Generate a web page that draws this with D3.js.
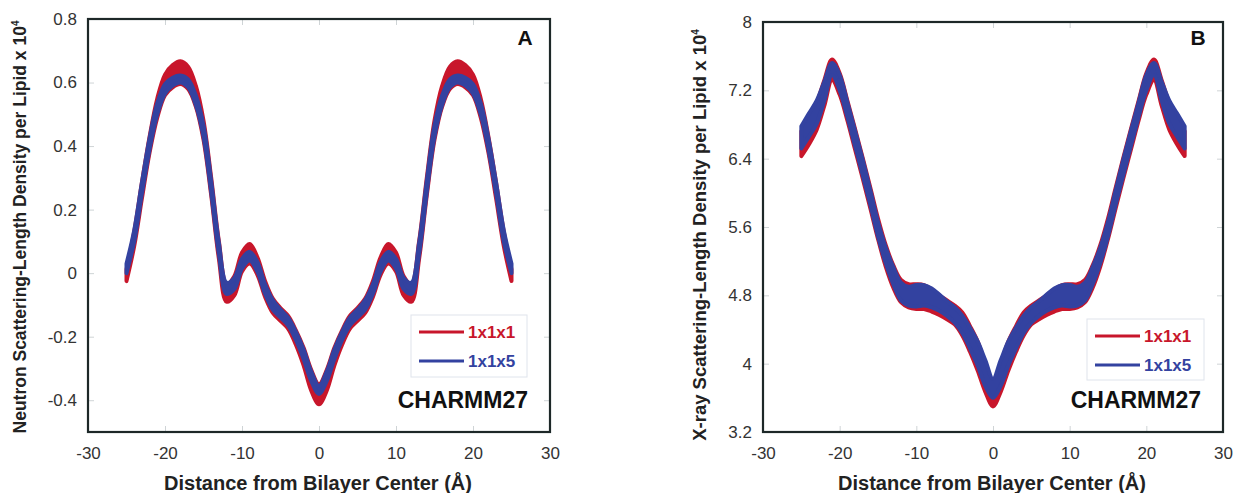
<!DOCTYPE html>
<html>
<head>
<meta charset="utf-8">
<script src="https://cdn.jsdelivr.net/npm/d3@7"></script>
<style>
  body { margin: 0; background: #fff; }
  svg { display: block; font-family: "Liberation Sans", Arial, Helvetica, sans-serif; }
</style>
</head>
<body>
<svg id="chart" width="1236" height="493"></svg>
<script>
// Distance from the bilayer centre (Å)
const distance = [-25,-24,-23,-22,-21,-20,-19,-18,-17,-16,-15,-14,-13,-12,-11,-10,-9,-8,-7,-6,-5,-4,-3,-2,-1,0,
                  1,2,3,4,5,6,7,8,9,10,11,12,13,14,15,16,17,18,19,20,21,22,23,24,25];

// Neutron scattering-length density (x 10^4): envelope of the trajectory profiles
const neutron1x1x1Lo = [-0.025,0.085,0.235,0.38,0.49,0.56,0.585,0.595,0.58,0.525,0.42,0.245,0.045,-0.09,-0.07,0.005,0.03,-0.005,-0.075,-0.125,-0.15,-0.175,-0.225,-0.29,-0.37,-0.413,
                        -0.37,-0.29,-0.225,-0.175,-0.15,-0.125,-0.075,-0.005,0.03,0.005,-0.07,-0.09,0.045,0.245,0.42,0.525,0.58,0.595,0.585,0.56,0.49,0.38,0.235,0.085,-0.025];
const neutron1x1x1Hi = [0.012,0.13,0.285,0.43,0.55,0.625,0.655,0.667,0.65,0.59,0.48,0.30,0.10,-0.035,-0.01,0.065,0.092,0.05,-0.025,-0.08,-0.11,-0.135,-0.18,-0.235,-0.305,-0.35,
                        -0.305,-0.235,-0.18,-0.135,-0.11,-0.08,-0.025,0.05,0.092,0.065,-0.01,-0.035,0.10,0.30,0.48,0.59,0.65,0.667,0.655,0.625,0.55,0.43,0.285,0.13,0.012];
const neutron1x1x5Lo = [0.00,0.10,0.25,0.39,0.50,0.565,0.59,0.60,0.585,0.53,0.43,0.255,0.06,-0.065,-0.05,0.015,0.04,0.005,-0.065,-0.115,-0.14,-0.165,-0.21,-0.27,-0.34,-0.38,
                        -0.34,-0.27,-0.21,-0.165,-0.14,-0.115,-0.065,0.005,0.04,0.015,-0.05,-0.065,0.06,0.255,0.43,0.53,0.585,0.60,0.59,0.565,0.50,0.39,0.25,0.10,0.00];
const neutron1x1x5Hi = [0.03,0.135,0.285,0.425,0.535,0.595,0.615,0.622,0.61,0.56,0.465,0.29,0.095,-0.03,-0.015,0.045,0.067,0.035,-0.035,-0.085,-0.115,-0.14,-0.185,-0.24,-0.31,-0.355,
                        -0.31,-0.24,-0.185,-0.14,-0.115,-0.085,-0.035,0.035,0.067,0.045,-0.015,-0.03,0.095,0.29,0.465,0.56,0.61,0.622,0.615,0.595,0.535,0.425,0.285,0.135,0.03];

// X-ray scattering-length density (x 10^4)
const xray1x1x1Lo = [6.43,6.57,6.74,7.02,7.32,7.15,6.85,6.51,6.17,5.82,5.46,5.14,4.89,4.72,4.66,4.64,4.64,4.61,4.57,4.52,4.46,4.33,4.14,3.92,3.67,3.50,
                     3.67,3.92,4.14,4.33,4.46,4.52,4.57,4.61,4.64,4.64,4.66,4.72,4.89,5.14,5.46,5.82,6.17,6.51,6.85,7.15,7.32,7.02,6.74,6.57,6.43];
const xray1x1x1Hi = [6.72,6.88,7.05,7.32,7.56,7.40,7.08,6.75,6.41,6.06,5.70,5.39,5.15,4.98,4.93,4.93,4.92,4.87,4.80,4.74,4.68,4.60,4.44,4.26,4.00,3.76,
                     4.00,4.26,4.44,4.60,4.68,4.74,4.80,4.87,4.92,4.93,4.93,4.98,5.15,5.39,5.70,6.06,6.41,6.75,7.08,7.40,7.56,7.32,7.05,6.88,6.72];
const xray1x1x5Lo = [6.52,6.66,6.81,7.08,7.38,7.20,6.89,6.55,6.21,5.86,5.49,5.18,4.93,4.74,4.68,4.67,4.68,4.66,4.62,4.56,4.48,4.36,4.18,3.98,3.74,3.60,
                     3.74,3.98,4.18,4.36,4.48,4.56,4.62,4.66,4.68,4.67,4.68,4.74,4.93,5.18,5.49,5.86,6.21,6.55,6.89,7.20,7.38,7.08,6.81,6.66,6.52];
const xray1x1x5Hi = [6.78,6.93,7.08,7.30,7.52,7.38,7.06,6.73,6.39,6.03,5.66,5.36,5.13,4.95,4.90,4.92,4.92,4.88,4.81,4.73,4.66,4.56,4.42,4.26,4.04,3.82,
                     4.04,4.26,4.42,4.56,4.66,4.73,4.81,4.88,4.92,4.92,4.90,4.95,5.13,5.36,5.66,6.03,6.39,6.73,7.06,7.38,7.52,7.30,7.08,6.93,6.78];

// Axis ticks and labels
const xTicks = [-30,-20,-10,0,10,20,30];
const xTickLabels = ["-30","-20","-10","0","10","20","30"];
const neutronTicks = [-0.4,-0.2,0,0.2,0.4,0.6,0.8];
const neutronTickLabels = ["-0.4","-0.2","0","0.2","0.4","0.6","0.8"];
const xrayTicks = [3.2,4,4.8,5.6,6.4,7.2,8];
const xrayTickLabels = ["3.2","4","4.8","5.6","6.4","7.2","8"];

const seriesNames = ["1x1x1", "1x1x5"];
const seriesColors = ["#c8162b", "#3342a0"];

const svg = d3.select("#chart");

const panels = [
  {
    letter: "A", left: 88, right: 550, top: 19, bottom: 432,
    yDomain: [-0.5, 0.8], yTicks: neutronTicks, yLabels: neutronTickLabels,
    yTitle: "Neutron Scattering-Length Density per Lipid x 10", titleX: 20, titleY: 227, titleSize: 17.5,
    bands: [[neutron1x1x1Lo, neutron1x1x1Hi], [neutron1x1x5Lo, neutron1x1x5Hi]],
    legend: { x: 411, y: 315, w: 116, h: 62 }
  },
  {
    letter: "B", left: 763, right: 1223, top: 22, bottom: 432,
    yDomain: [3.2, 8], yTicks: xrayTicks, yLabels: xrayTickLabels,
    yTitle: "X-ray Scattering-Length Density per Lipid x 10", titleX: 699, titleY: 235, titleSize: 18.5,
    bands: [[xray1x1x1Lo, xray1x1x1Hi], [xray1x1x5Lo, xray1x1x5Hi]],
    legend: { x: 1087, y: 319, w: 117, h: 61 }
  }
];

panels.forEach(p => {
  const x = d3.scaleLinear().domain([-30, 30]).range([p.left, p.right]);
  const y = d3.scaleLinear().domain(p.yDomain).range([p.bottom, p.top]);
  const g = svg.append("g");

  // inward tick marks on all four sides
  const tickStyle = sel => {
    sel.select(".domain").remove();
    sel.selectAll(".tick line").attr("stroke", "#cfd4d6").attr("stroke-width", 1);
  };
  const labelStyle = sel => sel.selectAll("text").attr("font-size", 17).attr("fill", "#333")
    .attr("font-family", "Liberation Sans, Arial, sans-serif");
  g.append("g").attr("transform", `translate(0,${p.bottom})`)
    .call(d3.axisBottom(x).tickValues(xTicks).tickSize(-6).tickPadding(15)
      .tickFormat((d, i) => xTickLabels[i]))
    .call(tickStyle).call(labelStyle);
  g.append("g").attr("transform", `translate(0,${p.top})`)
    .call(d3.axisTop(x).tickValues(xTicks).tickSize(-6).tickFormat(""))
    .call(tickStyle);
  g.append("g").attr("transform", `translate(${p.left},0)`)
    .call(d3.axisLeft(y).tickValues(p.yTicks).tickSize(-6).tickPadding(11)
      .tickFormat((d, i) => p.yLabels[i]))
    .call(tickStyle).call(labelStyle);
  g.append("g").attr("transform", `translate(${p.right},0)`)
    .call(d3.axisRight(y).tickValues(p.yTicks).tickSize(-6).tickFormat(""))
    .call(tickStyle);

  // density bands: red (1x1x1) underneath, blue (1x1x5) on top
  p.bands.forEach((band, si) => {
    const [lo, hi] = band;
    const area = d3.area()
      .x((d, i) => x(distance[i]))
      .y0((d, i) => y(lo[i]))
      .y1((d, i) => y(hi[i]))
      .curve(d3.curveCatmullRom);
    g.append("path")
      .datum(distance)
      .attr("d", area)
      .attr("fill", seriesColors[si])
      .attr("stroke", seriesColors[si])
      .attr("stroke-width", 4)
      .attr("stroke-linejoin", "round");
  });

  // frame
  g.append("rect")
    .attr("x", p.left).attr("y", p.top)
    .attr("width", p.right - p.left).attr("height", p.bottom - p.top)
    .attr("fill", "none").attr("stroke", "#1d2828").attr("stroke-width", 2.2);

  // panel letter
  g.append("text").attr("x", p.right - 25).attr("y", 44.5)
    .attr("text-anchor", "middle").attr("font-size", 21).attr("font-weight", "bold")
    .attr("fill", "#111").text(p.letter);

  // legend
  const L = p.legend;
  g.append("rect").attr("x", L.x).attr("y", L.y).attr("width", L.w).attr("height", L.h)
    .attr("fill", "#fff").attr("stroke", "#dfe4ec").attr("stroke-width", 1);
  seriesNames.forEach((name, si) => {
    const ly = L.y + 17 + si * 29;
    g.append("line").attr("x1", L.x + 8).attr("x2", L.x + 53).attr("y1", ly).attr("y2", ly)
      .attr("stroke", seriesColors[si]).attr("stroke-width", 3);
    g.append("text").attr("x", L.x + 57).attr("y", ly).attr("dy", "0.36em")
      .attr("font-size", 17).attr("font-weight", "bold").attr("fill", seriesColors[si])
      .text(name);
  });
  g.append("text").attr("x", p.right - 22).attr("y", 407.5).attr("text-anchor", "end")
    .attr("font-size", 23).attr("font-weight", "bold").attr("fill", "#111").text("CHARMM27");

  // axis titles
  g.append("text").attr("x", (p.left + p.right) / 2 - 1).attr("y", 490)
    .attr("text-anchor", "middle").attr("font-size", 20).attr("font-weight", "bold")
    .attr("fill", "#222").text("Distance from Bilayer Center (Å)");
  const yt = g.append("text")
    .attr("transform", `translate(${p.titleX},${p.titleY}) rotate(-90)`)
    .attr("text-anchor", "middle").attr("dy", "0.36em")
    .attr("font-size", p.titleSize).attr("font-weight", "bold").attr("fill", "#222");
  yt.append("tspan").text(p.yTitle);
  yt.append("tspan").attr("dy", -7).attr("font-size", 10).text("4");
});
</script>
</body>
</html>
